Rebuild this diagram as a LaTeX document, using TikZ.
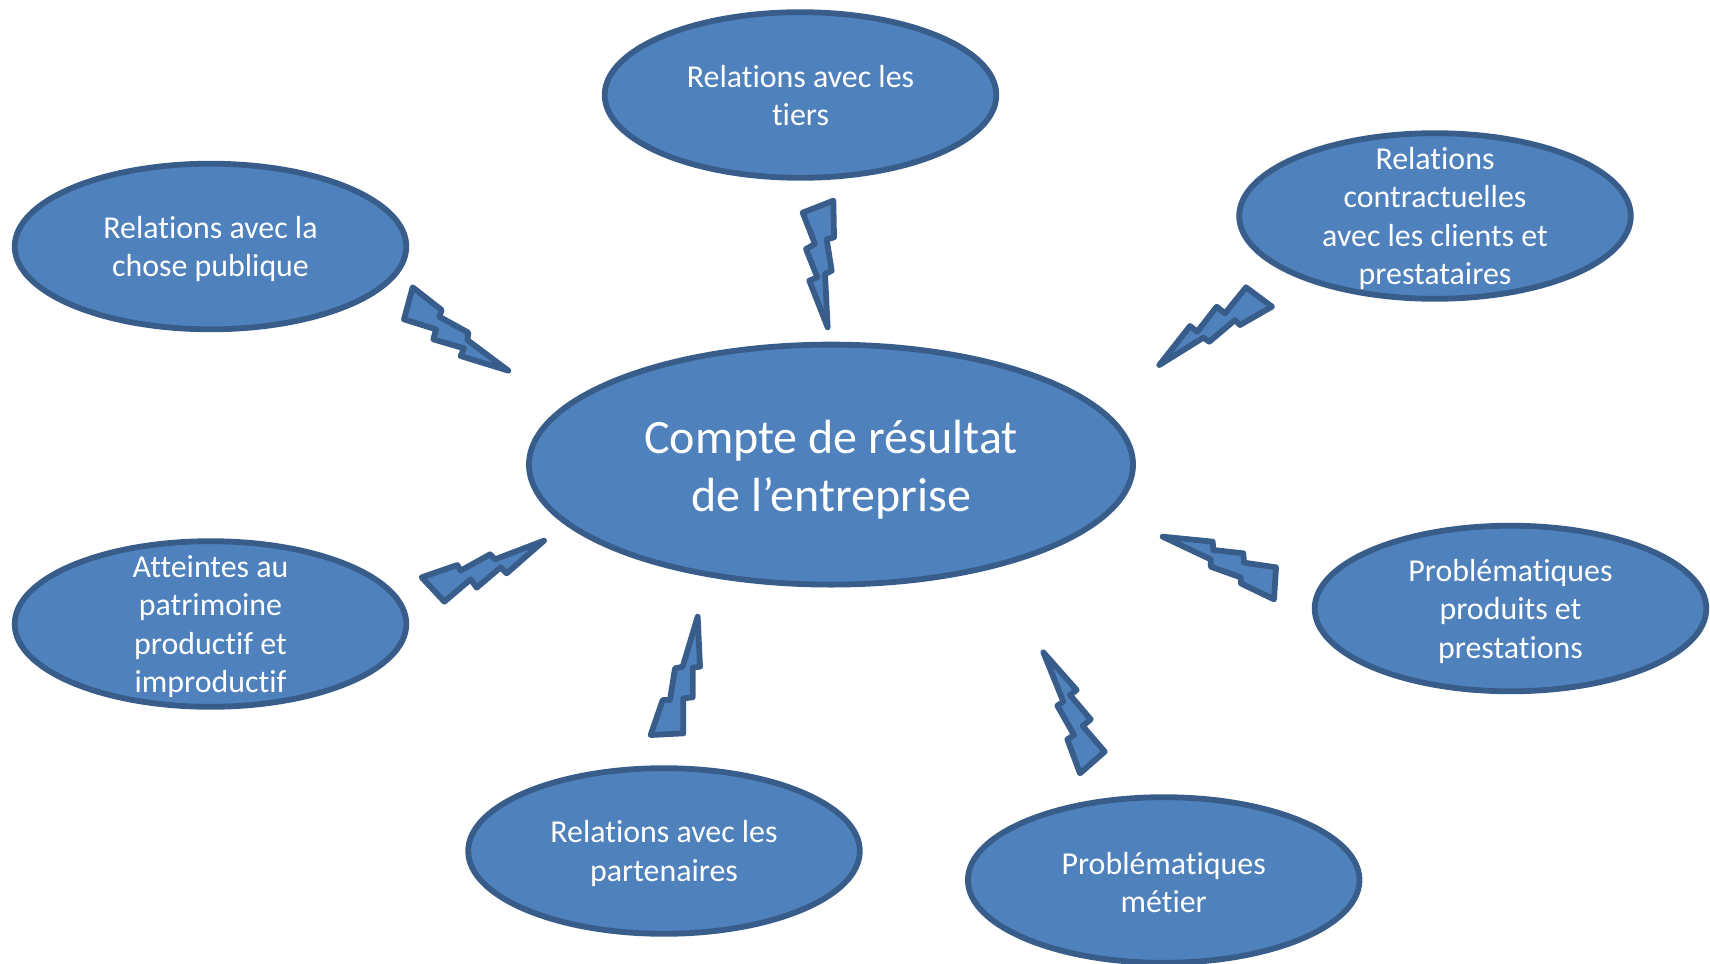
\documentclass[tikz,border=0pt]{standalone}
\usepackage{fontspec}
\setmainfont{Carlito}[Ligatures=NoCommon]
\definecolor{blobfill}{HTML}{4F81BD}
\definecolor{blobline}{HTML}{385D8A}
\usetikzlibrary{shapes.geometric}
\tikzset{
  blob/.style={ellipse,draw=blobline,fill=blobfill,line width=2.9pt,inner sep=0pt,
    minimum width=195.8pt,minimum height=82.8pt},
  mainblob/.style={blob,minimum width=302pt,minimum height=120pt},
  blobtext/.style={text=white,align=center,inner sep=0pt,font=\fontsize{15.95}{19.2}\selectfont,yshift=-1.3pt},
  maintext/.style={blobtext,font=\fontsize{24}{29}\selectfont,yshift=-1.2pt},
  bolt/.style={draw=blobline,fill=blobfill,line width=2.9pt,line join=round},
  zoomed/.style={x=0.16667pt,y=-0.16667pt}
}
\begin{document}
\begin{tikzpicture}[x=0.5pt,y=-0.5pt]
\useasboundingbox (0,0) rectangle (1710,964);
\node[mainblob,label={[maintext]center:Compte de résultat\\de l’entreprise}] (centre) at (831,464.6) {};
\node[blob,label={[blobtext,yshift=1pt]center:Relations avec les\\tiers}] (tiers) at (800.5,95) {};
\node[blob,label={[blobtext]center:Relations avec la\\chose publique}] (chose) at (210.5,246.5) {};
\node[blob,label={[blobtext]center:Relations\\contractuelles\\avec les clients et\\prestataires}] (contrat) at (1435,216) {};
\node[blob,label={[blobtext]center:Atteintes au\\patrimoine\\productif et\\improductif}] (patrimoine) at (210.5,624) {};
\node[blob,label={[blobtext]center:Problématiques\\produits et\\prestations}] (produits) at (1510.5,608.5) {};
\node[blob,label={[blobtext]center:Relations avec les\\partenaires}] (partenaires) at (664,851) {};
\node[blob,label={[blobtext]center:Problématiques\\métier}] (metier) at (1163.7,880) {};
\begin{scope}[shift={(780,180)},zoomed]
\draw[bolt] (68,98)--(160,62)--(162,172)--(140,178)--(155,272)--(135,282)--(143,442)--(88,302)--(112,292)--(78,207)--(105,192)--cycle;
\end{scope}
\begin{scope}[shift={(1140,270)},zoomed]
\draw[bolt] (58,285)--(150,168)--(172,185)--(230,110)--(255,130)--(318,52)--(396,110)--(300,165)--(285,150)--(208,215)--(190,203)--cycle;
\end{scope}
\begin{scope}[shift={(390,270)},zoomed]
\draw[bolt] (68,52)--(155,120)--(148,140)--(235,188)--(232,210)--(355,302)--(212,258)--(222,235)--(130,208)--(138,178)--(42,148)--cycle;
\end{scope}
\begin{scope}[shift={(410,520)},zoomed]
\draw[bolt] (402,62)--(290,160)--(272,142)--(200,203)--(182,178)--(103,245)--(35,172)--(142,135)--(152,152)--(240,103)--(255,118)--cycle;
\end{scope}
\begin{scope}[shift={(1150,520)},zoomed]
\draw[bolt] (38,50)--(188,65)--(190,90)--(280,100)--(282,128)--(378,142)--(372,238)--(272,190)--(272,172)--(182,140)--(182,118)--cycle;
\end{scope}
\begin{scope}[shift={(630,600)},zoomed]
\draw[bolt] (203,50)--(210,200)--(188,203)--(188,292)--(160,295)--(160,400)--(62,405)--(98,300)--(120,300)--(135,205)--(158,200)--cycle;
\end{scope}
\begin{scope}[shift={(1020,640)},zoomed]
\draw[bolt] (70,37)--(170,150)--(150,165)--(212,238)--(188,258)--(254,335)--(180,400)--(142,298)--(162,285)--(112,197)--(130,185)--cycle;
\end{scope}
\end{tikzpicture}
\end{document}
